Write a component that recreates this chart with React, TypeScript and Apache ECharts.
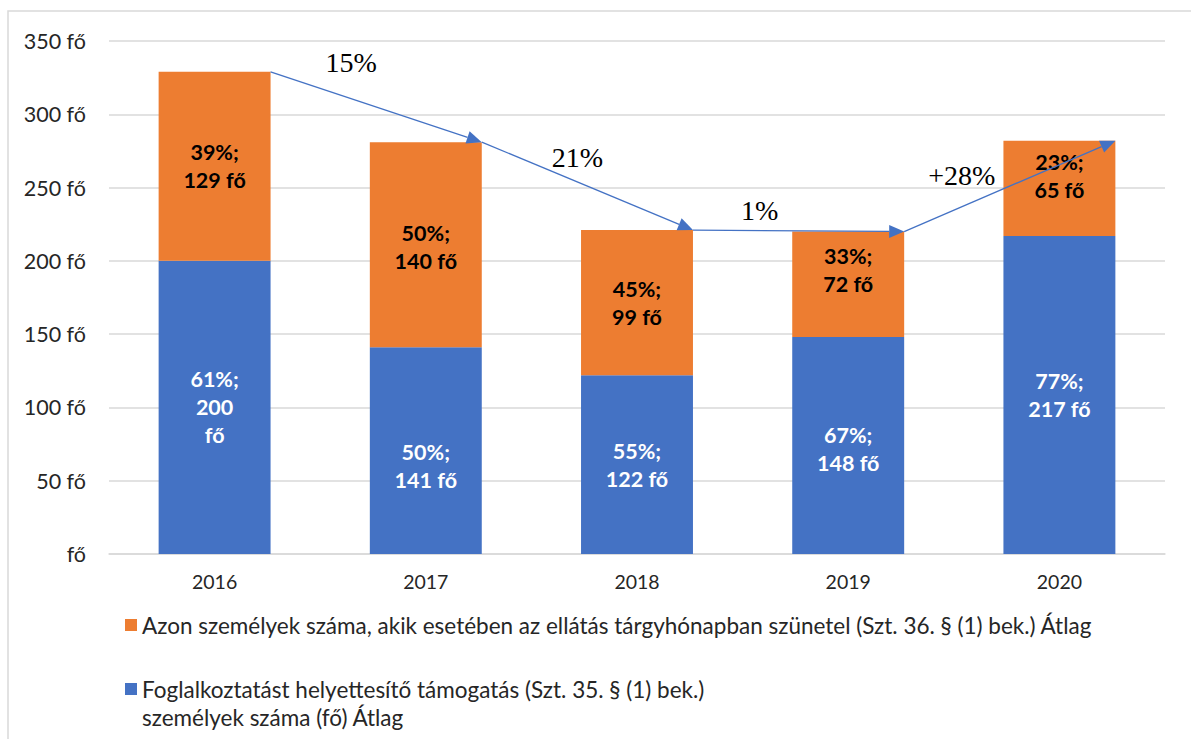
import React, { useEffect, useRef } from 'react';
import * as echarts from 'echarts';

const years = ['2016', '2017', '2018', '2019', '2020'];
const blueValues = [200, 141, 122, 148, 217];
const orangeValues = [129, 140, 99, 72, 65];
const changeLabels = ['15%', '21%', '1%', '+28%'];

const orangeName =
  'Azon személyek száma, akik esetében az ellátás tárgyhónapban szünetel (Szt. 36. § (1) bek.) Átlag';
const blueName = 'Foglalkoztatást helyettesítő támogatás (Szt. 35. § (1) bek.)\nszemélyek száma (fő) Átlag';

const BLUE = '#4472C4';
const ORANGE = '#ED7D31';
const BAR_RATIO = 0.53;
const FONT = 'Lato, "Noto Sans", sans-serif';
// layout-only tweaks: offsets of the change labels relative to arrow midpoints
const labelOffsets = [
  [-25, -44],
  [-10, -29],
  [-39, -20],
  [-48, -11],
];
// layout-only tweaks: vertical shifts of the in-bar labels (as in the original)
const blueLabelShift = [0, 15, 0, 3, 0];
const orangeLabelShift = [0, 2, 0, -14, -12];

export default function App() {
  const ref = useRef<HTMLDivElement>(null);
  useEffect(() => {
    if (!ref.current) return;
    const chart = echarts.init(ref.current, undefined, { renderer: 'svg' });
    const totals = blueValues.map((v, i) => v + orangeValues[i]);
    const arrowData = totals.slice(0, -1).map((t, i) => [i, t, totals[i + 1]]);

    const pct = (v: number, i: number) => Math.round((v / totals[i]) * 100);

    chart.setOption({
      animation: false,
      graphic: [
        {
          type: 'rect',
          shape: { x: 8, y: 11, width: 1400, height: 900 },
          style: { fill: 'none', stroke: '#d9d9d9', lineWidth: 1.5 },
          silent: true,
        },
      ],
      grid: { left: 109, right: 26, top: 41, bottom: 185, containLabel: false },
      legend: [
        {
          data: [orangeName],
          left: 125,
          top: 611,
          padding: 0,
          icon: 'rect',
          itemWidth: 12,
          itemHeight: 12,
          itemGap: 0,
          textStyle: { fontFamily: FONT, fontSize: 22.5, color: '#262626', lineHeight: 28 },
        },
        {
          data: [blueName],
          left: 125,
          top: 647,
          padding: 0,
          icon: 'rect',
          itemWidth: 12,
          itemHeight: 12,
          formatter: (name: string) => '\n' + name,
          textStyle: {
            fontFamily: FONT,
            fontSize: 22.5,
            color: '#262626',
            lineHeight: 28,
          },
        },
      ],
      xAxis: {
        type: 'category',
        data: years,
        axisTick: { show: false },
        axisLine: { lineStyle: { color: '#d9d9d9', width: 1.5 } },
        axisLabel: { fontFamily: FONT, fontSize: 19.5, color: '#262626', margin: 17 },
      },
      yAxis: {
        type: 'value',
        min: 0,
        max: 350,
        interval: 50,
        axisLine: { show: false },
        axisTick: { show: false },
        splitLine: { lineStyle: { color: '#d9d9d9', width: 1.5 } },
        axisLabel: {
          fontFamily: FONT,
          fontSize: 21.5,
          color: '#262626',
          margin: 23,
          formatter: (v: number) => (v === 0 ? 'fő' : `${v} fő`),
        },
      },
      series: [
        {
          name: blueName,
          type: 'bar',
          stack: 'total',
          barWidth: `${BAR_RATIO * 100}%`,
          data: blueValues.map((v, i) => ({ value: v, label: { offset: [0, blueLabelShift[i]] } })),
          itemStyle: { color: BLUE },
          label: {
            show: true,
            position: 'inside',
            fontFamily: FONT,
            fontSize: 21.5,
            fontWeight: 'bold',
            lineHeight: 28,
            color: '#ffffff',
            formatter: (p: any) =>
              p.dataIndex === 0
                ? `${pct(p.value, p.dataIndex)}%;\n${p.value}\nfő`
                : `${pct(p.value, p.dataIndex)}%;\n${p.value} fő`,
          },
        },
        {
          name: orangeName,
          type: 'bar',
          stack: 'total',
          barWidth: `${BAR_RATIO * 100}%`,
          data: orangeValues.map((v, i) => ({ value: v, label: { offset: [0, orangeLabelShift[i]] } })),
          itemStyle: { color: ORANGE },
          label: {
            show: true,
            position: 'inside',
            fontFamily: FONT,
            fontSize: 21.5,
            fontWeight: 'bold',
            lineHeight: 28,
            color: '#000000',
            formatter: (p: any) => `${pct(p.value, p.dataIndex)}%;\n${p.value} fő`,
          },
        },
        {
          type: 'custom',
          name: 'change',
          clip: false,
          z: 10,
          silent: true,
          encode: { x: 0, y: 1 },
          data: arrowData,
          renderItem: (params: any, api: any) => {
            const i = api.value(0);
            const a = api.coord([i, api.value(1)]);
            const b = api.coord([i + 1, api.value(2)]);
            const half = (api.size([1, 0])[0] * BAR_RATIO) / 2;
            const x1 = a[0] + half;
            const y1 = a[1];
            const x2 = b[0] + half;
            const y2 = b[1];
            const ang = Math.atan2(y2 - y1, x2 - x1);
            const c = Math.cos(ang);
            const s = Math.sin(ang);
            const L = 15;
            const W = 6.5;
            const bx = x2 - L * c;
            const by = y2 - L * s;
            const off = labelOffsets[params.dataIndex];
            return {
              type: 'group',
              children: [
                {
                  type: 'line',
                  shape: { x1, y1, x2: bx, y2: by },
                  style: { stroke: BLUE, lineWidth: 1.3 },
                },
                {
                  type: 'polygon',
                  shape: {
                    points: [
                      [x2, y2],
                      [bx - W * s, by + W * c],
                      [bx + W * s, by - W * c],
                    ],
                  },
                  style: { fill: BLUE },
                },
                {
                  type: 'text',
                  x: (x1 + x2) / 2 + off[0],
                  y: (y1 + y2) / 2 + off[1],
                  style: {
                    text: changeLabels[params.dataIndex],
                    fontFamily: '"Liberation Serif", "Times New Roman", serif',
                    fontSize: 28,
                    fill: '#000000',
                    align: 'center',
                    verticalAlign: 'middle',
                  },
                },
              ],
            };
          },
        },
      ],
    });
    return () => chart.dispose();
  }, []);
  return (
    <div
      ref={ref}
      style={{ position: 'absolute', left: 0, top: 0, width: 1191, height: 739, background: '#fff' }}
    />
  );
}
